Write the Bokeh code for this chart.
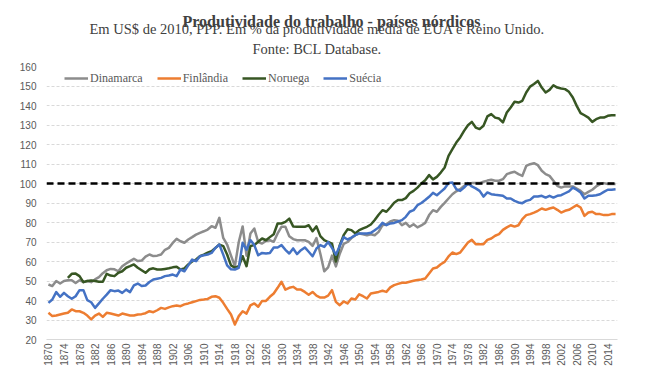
import math
from bokeh.plotting import figure
from bokeh.models import FixedTicker, Span, Title, Legend, LegendItem, Range1d
from bokeh.embed import file_html
from bokeh.resources import INLINE

NaN = float("nan")

years = list(range(1870, 2017))

dinamarca = [
    48.2, 47.4, 50.0, 48.7, 50.0, 50.4, 50.4, 49.0, 50.4, 49.4,
    50.0, 49.4, 50.8, 52.0, 54.0, 55.5, 56.2, 56.0, 55.0, 57.6,
    59.0, 60.2, 61.4, 60.2, 60.5, 62.5, 63.6, 62.8, 63.0, 63.6,
    66.0, 67.0, 69.5, 71.6, 70.4, 69.6, 71.3, 72.5, 73.8, 74.7,
    75.5, 76.4, 78.1, 77.3, 82.4, 72.1, 68.7, 63.0, 57.6, 70.0,
    78.0, 63.0, 74.4, 76.9, 70.0, 69.2, 70.5, 70.9, 70.1, 74.4,
    77.8, 77.8, 73.0, 71.5, 70.9, 70.9, 70.9, 70.1, 68.0, 72.0,
    64.0, 55.0, 57.0, 63.0, 57.5, 64.0, 69.0, 70.0, 72.0, 73.5,
    74.4, 74.0, 73.5, 74.0, 73.5, 75.2, 78.6, 79.1, 80.5, 81.2,
    80.9, 78.6, 79.8, 77.8, 79.1, 77.5, 78.5, 79.8, 83.8, 86.3,
    85.5, 88.0, 90.1, 92.3, 94.5, 96.0, 97.1, 98.8, 99.5, 100.2,
    100.2, 100.2, 100.9, 101.5, 101.9, 101.4, 101.4, 102.2, 104.8, 105.5,
    106.0, 104.8, 103.9, 109.0, 109.9, 110.4, 109.4, 106.5, 104.8, 103.9,
    101.4, 98.8, 97.9, 98.5, 98.5, 98.5, 97.4, 96.2, 94.5, 95.7,
    96.8, 98.5, 99.7, 100.2, 99.7, 99.7, 99.7,
]

finlandia = [
    33.7, 32.0, 32.3, 32.8, 33.3, 33.7, 35.4, 34.5, 34.5, 33.7,
    32.3, 30.3, 32.3, 33.3, 31.6, 33.7, 33.3, 32.8, 32.3, 33.3,
    32.8, 32.3, 32.3, 32.8, 33.0, 33.5, 34.5, 34.0, 35.0, 36.2,
    35.7, 36.5, 37.1, 37.4, 37.1, 38.0, 38.5, 39.1, 39.7, 40.3,
    40.5, 40.8, 41.9, 42.2, 41.4, 38.8, 35.7, 32.8, 27.7, 32.0,
    34.5, 33.3, 37.5, 38.5, 36.8, 39.8, 39.8, 41.9, 43.6, 46.5,
    49.6, 45.6, 46.5, 47.0, 45.6, 45.6, 44.4, 43.0, 44.4, 42.5,
    41.5, 41.5, 42.5, 45.3, 39.3, 37.6, 39.5, 38.5, 41.0, 40.5,
    43.2, 42.2, 41.0, 43.6, 44.0, 44.4, 45.0, 44.4, 46.7, 47.9,
    48.5, 49.1, 49.1, 49.6, 50.1, 50.5, 50.8, 51.3, 53.8, 56.4,
    56.9, 58.6, 59.8, 62.6, 64.6, 63.8, 64.6, 67.2, 69.7, 71.1,
    68.9, 68.9, 68.9, 71.1, 71.8, 73.2, 74.0, 76.2, 77.5, 78.6,
    77.9, 78.6, 81.7, 83.8, 84.3, 85.1, 86.0, 87.2, 86.5, 87.2,
    87.7, 86.5, 85.1, 86.0, 86.5, 87.7, 88.9, 87.7, 83.4, 85.1,
    85.5, 84.3, 84.3, 83.8, 83.8, 84.3, 84.3,
]

noruega = [
    NaN, NaN, NaN, NaN, NaN, 51.6, 53.7, 53.8, 52.5, 49.4,
    50.0, 50.3, 50.0, 49.6, 49.6, 53.7, 52.8, 52.5, 54.2, 55.0,
    56.8, 57.6, 58.5, 56.8, 55.5, 54.2, 56.0, 56.5, 55.9, 55.9,
    56.2, 56.5, 57.0, 57.3, 55.9, 56.5, 58.5, 60.0, 61.0, 62.7,
    63.5, 64.5, 65.3, 67.0, 68.7, 67.9, 63.6, 58.0, 56.8, 57.6,
    62.7, 57.6, 68.0, 68.4, 70.1, 71.8, 70.9, 72.5, 74.0, 79.5,
    79.5, 80.3, 82.0, 78.0, 77.8, 77.8, 77.8, 78.6, 75.5, 78.0,
    73.0, 71.0, 70.0, 69.2, 60.0, 68.4, 73.5, 76.5, 76.1, 74.4,
    76.1, 77.0, 77.8, 79.0, 81.3, 84.0, 86.3, 85.5, 87.7, 90.1,
    91.5, 91.5, 92.5, 95.0, 96.2, 97.9, 100.0, 101.7, 104.3, 102.1,
    103.4, 105.6, 108.2, 114.2, 117.6, 121.0, 123.6, 127.0, 129.9, 131.6,
    128.7, 127.9, 129.6, 134.4, 135.6, 133.8, 133.3, 131.3, 136.4, 139.0,
    141.9, 141.5, 142.4, 146.7, 149.7, 151.0, 152.6, 149.2, 146.7, 148.0,
    150.4, 149.2, 148.7, 148.4, 147.0, 144.1, 139.8, 136.1, 135.0, 133.8,
    131.6, 133.0, 133.8, 133.8, 134.7, 135.0, 135.0,
]

suecia = [
    38.8, 40.5, 44.3, 41.9, 43.9, 42.2, 40.9, 42.2, 45.3, 45.3,
    40.2, 39.1, 36.2, 38.5, 40.9, 43.0, 45.3, 44.8, 45.1, 43.9,
    45.6, 44.3, 47.7, 48.7, 47.4, 47.7, 49.5, 50.8, 51.2, 51.6,
    52.5, 52.8, 53.3, 52.5, 55.9, 55.0, 58.0, 61.0, 60.2, 62.7,
    63.2, 63.6, 64.4, 67.0, 68.7, 63.5, 58.0, 56.0, 55.9, 56.8,
    69.6, 66.0, 71.0, 68.4, 63.2, 64.4, 64.1, 64.4, 67.2, 67.2,
    68.4, 66.0, 64.1, 66.7, 63.8, 65.8, 67.2, 65.0, 62.7, 66.7,
    68.4, 67.5, 70.0, 67.0, 63.5, 68.0, 72.5, 71.3, 72.3, 73.5,
    74.4, 74.4, 74.4, 74.7, 76.0, 77.5, 79.8, 78.6, 79.5, 79.8,
    80.5, 81.2, 82.9, 85.5, 86.3, 88.9, 90.0, 91.5, 93.2, 95.2,
    94.0, 95.7, 97.4, 100.2, 100.5, 97.1, 96.2, 97.9, 100.2, 98.5,
    97.5, 96.2, 93.3, 95.4, 94.5, 94.2, 94.0, 93.7, 92.3, 92.3,
    91.1, 90.3, 89.9, 91.1, 91.6, 93.3, 93.3, 93.7, 92.8, 93.7,
    92.8, 93.7, 94.0, 95.0, 96.0, 97.9, 96.8, 95.4, 92.3, 93.7,
    93.7, 94.0, 94.5, 95.7, 96.8, 96.8, 97.0,
]

series_names = ["Dinamarca", "Finlândia", "Noruega", "Suécia"]
series_colors = ["#8c8c8c", "#ED7D31", "#375623", "#4472C4"]

y_ticks = list(range(20, 161, 10))
x_ticks = list(range(1870, 2015, 4))
reference_level = 100

title_text = "Produtividade do trabalho - países nórdicos"
subtitle_text = "Em US$ de 2010, PPP. Em % da produtividade média de EUA e  Reino Unido."
source_text = "Fonte: BCL Database."

SERIF = "Liberation Serif"
SANS = "Liberation Sans"
TEXT_COLOR = "#595959"

W, H = 655, 380
p = figure(width=W, height=H, output_backend="svg", toolbar_location=None,
           x_range=Range1d(1869.5, 2016.5), y_range=Range1d(20, 160),
           min_border_left=46, min_border_right=W - 617, min_border_top=66,
           min_border_bottom=H - 339)
p.title.visible = False
p.outline_line_color = None
p.background_fill_color = "white"
p.border_fill_color = "white"

p.xgrid.visible = False
p.ygrid.ticker = FixedTicker(ticks=y_ticks)
p.ygrid.grid_line_color = "#d9d9d9"
p.ygrid.grid_line_dash = "3 2"
p.ygrid.grid_line_width = 1

p.yaxis.ticker = FixedTicker(ticks=y_ticks)
p.yaxis.axis_line_color = None
p.yaxis.major_tick_line_color = None
p.yaxis.minor_tick_line_color = None
p.yaxis.major_tick_out = 0
p.yaxis.minor_tick_out = 0
p.yaxis.major_label_standoff = 10
p.yaxis.major_label_text_font = SANS
p.yaxis.major_label_text_font_size = "10px"
p.yaxis.major_label_text_color = TEXT_COLOR

p.xaxis.ticker = FixedTicker(ticks=x_ticks)
p.xaxis.axis_line_color = "#d9d9d9"
p.xaxis.axis_line_width = 1
p.xaxis.major_tick_line_color = None
p.xaxis.minor_tick_line_color = None
p.xaxis.major_tick_out = 0
p.xaxis.minor_tick_out = 0
p.xaxis.major_label_standoff = 4
p.xaxis.major_label_orientation = math.pi / 2
p.xaxis.major_label_text_font = SANS
p.xaxis.major_label_text_font_size = "10px"
p.xaxis.major_label_text_color = TEXT_COLOR

items = []
for name, color, vals in zip(series_names, series_colors,
                             [dinamarca, finlandia, noruega, suecia]):
    r = p.line(years, vals, line_color=color, line_width=2.5, line_join="round")
    items.append(LegendItem(label=name, renderers=[r]))

p.add_layout(Span(location=reference_level, dimension="width", line_color="black",
                  line_width=2.5, line_dash="7 4"))

legend = Legend(items=items, orientation="horizontal", location=(18, 253),
                padding=0, margin=0, spacing=14, label_standoff=2,
                glyph_width=24, glyph_height=16, label_height=16,
                label_text_font=SERIF, label_text_font_size="12px",
                label_text_color=TEXT_COLOR, background_fill_alpha=0,
                border_line_color=None)
p.add_layout(legend)

# stacked titles: first added sits closest to the plot frame
for txt, size, style, standoff, left in [(source_text, "14.5px", "normal", 20, 206),
                                         (subtitle_text, "14.5px", "normal", -17, 43),
                                         (title_text, "16px", "bold", -5, 136)]:
    p.add_layout(Title(text=txt, align="left", offset=left, standoff=standoff,
                       text_font=SERIF, text_font_size=size, text_font_style=style,
                       text_color="#404040"), "above")

open("out.html", "w").write(file_html(p, INLINE))
